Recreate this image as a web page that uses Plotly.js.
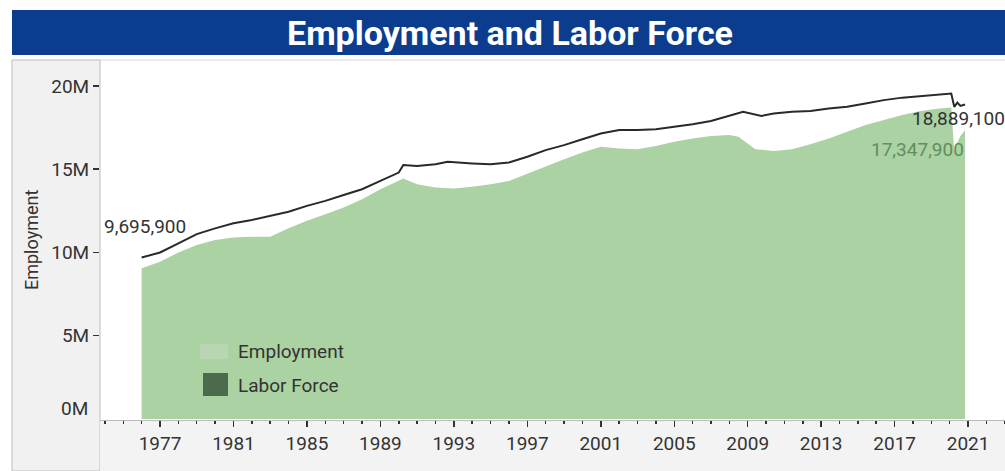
<!DOCTYPE html>
<html>
<head>
<meta charset="utf-8">
<script src="https://cdn.plot.ly/plotly-3.0.1.min.js"></script>
<style>
html,body{margin:0;padding:0;background:#fff;}
#chart{width:1005px;height:471px;}
</style>
</head>
<body>
<div id="chart"></div>
<script>
// Labor force (line)
const lfDates = ['1976-01-01','1977-01-01','1978-01-01','1979-01-01','1980-01-01','1981-01-01','1982-01-01','1983-01-01','1984-01-01','1985-01-01','1986-01-01','1987-01-01','1988-01-01','1989-01-01','1990-01-01','1990-04-01','1991-01-01','1992-01-01','1992-09-01','1994-01-01','1995-01-01','1996-01-01','1997-01-01','1998-01-01','1999-01-01','2000-01-01','2001-01-01','2002-01-01','2003-01-01','2004-01-01','2005-01-01','2006-01-01','2007-01-01','2008-01-01','2008-10-01','2009-10-01','2010-06-01','2011-06-01','2012-06-01','2013-06-01','2014-06-01','2015-06-01','2016-06-01','2017-06-01','2018-06-01','2019-06-01','2020-02-01','2020-04-01','2020-06-01','2020-08-01','2020-11-01'];
const laborForce = [9695900,10000000,10550000,11100000,11450000,11750000,11950000,12200000,12450000,12800000,13100000,13450000,13800000,14300000,14800000,15250000,15200000,15300000,15450000,15350000,15300000,15400000,15750000,16150000,16450000,16800000,17150000,17350000,17350000,17400000,17550000,17700000,17900000,18200000,18450000,18200000,18350000,18450000,18500000,18650000,18750000,18950000,19150000,19300000,19400000,19500000,19550000,18750000,19000000,18800000,18889100];

// Employment (area)
const empDates = ['1976-01-01','1977-01-01','1978-01-01','1979-01-01','1980-01-01','1981-01-01','1982-01-01','1983-01-01','1984-01-01','1985-01-01','1986-01-01','1987-01-01','1988-01-01','1989-01-01','1990-04-01','1991-01-01','1992-01-01','1993-01-01','1994-01-01','1995-01-01','1996-01-01','1997-01-01','1998-01-01','1999-01-01','2000-01-01','2001-01-01','2002-01-01','2003-01-01','2004-01-01','2005-01-01','2006-01-01','2007-01-01','2008-01-01','2008-07-01','2009-06-01','2010-06-01','2011-06-01','2012-06-01','2013-06-01','2014-06-01','2015-06-01','2016-06-01','2017-06-01','2018-06-01','2019-06-01','2020-02-01','2020-04-01','2020-06-01','2020-08-01','2020-11-01'];
const employment = [9050000,9450000,10000000,10450000,10750000,10900000,10950000,10950000,11450000,11900000,12300000,12700000,13200000,13800000,14450000,14100000,13900000,13850000,13950000,14100000,14300000,14750000,15200000,15600000,16000000,16350000,16250000,16200000,16400000,16650000,16850000,17000000,17050000,16950000,16200000,16100000,16200000,16500000,16850000,17250000,17650000,17950000,18250000,18500000,18650000,18700000,16050000,16600000,17000000,17347900];

const tickYears = ['1977','1981','1985','1989','1993','1997','2001','2005','2009','2013','2017','2021'];
const yTickVals = [5000000,10000000,15000000,20000000];
const yTickText = ['5M','10M','15M','20M'];
const legendLabels = ['Employment','Labor Force'];

const FONT = 'Roboto, "Open Sans", sans-serif';
const W = 905, H = 360, L = 100, T = 60;
const px = x => (x - L) / W;
const py = y => (T + H - y) / H;

const traces = [
  {
    x: empDates, y: employment, type: 'scatter', mode: 'lines',
    fill: 'tozeroy', fillcolor: '#aad2a2', line: {width: 0, color: '#aad2a2'},
    name: legendLabels[0], showlegend: false, hoverinfo: 'x+y'
  },
  {
    x: lfDates, y: laborForce, type: 'scatter', mode: 'lines',
    line: {width: 2, color: '#262b26'},
    name: legendLabels[1], showlegend: false, hoverinfo: 'x+y'
  }
];

const fmt = v => v.toLocaleString('en-US');

const layout = {
  width: 1005, height: 471,
  margin: {l: L, r: 0, t: T, b: 51, pad: 0},
  paper_bgcolor: '#ffffff', plot_bgcolor: 'rgba(0,0,0,0)',
  font: {family: FONT, color: '#333', size: 19},
  title: {text: '<b>Employment and Labor Force</b>', font: {family: FONT, size: 34, color: '#ffffff'},
          x: 510/1005, xanchor: 'center', xref: 'container', y: 1 - 33/471, yanchor: 'middle', yref: 'container'},
  xaxis: {
    type: 'date', range: ['1973-09-25', '2023-01-05'],
    tickvals: tickYears.map(y => y + '-01-01'), ticktext: tickYears,
    ticks: 'outside', ticklen: 6, tickwidth: 1.5, tickcolor: '#333',
    minor: {dtick: 'M12', tick0: '1977-01-01', ticks: 'outside', ticklen: 3, tickwidth: 1.5, tickcolor: '#333'},
    showline: true, linecolor: '#bbbbbb', linewidth: 1, showgrid: false, zeroline: false,
    tickfont: {family: FONT, size: 19, color: '#333'}, fixedrange: true
  },
  yaxis: {
    range: [-60000, 21560000],
    tickvals: yTickVals, ticktext: yTickText,
    ticks: 'outside', ticklen: 6, tickwidth: 1.5, tickcolor: '#333',
    showline: false, showgrid: false, zeroline: false,
    tickfont: {family: FONT, size: 19, color: '#333'}, fixedrange: true
  },
  shapes: [
    {type: 'rect', xref: 'paper', yref: 'paper', x0: px(12), x1: 1, y0: py(55), y1: py(10),
     fillcolor: '#0b3c8e', line: {width: 0}, layer: 'below'},
    {type: 'rect', xref: 'paper', yref: 'paper', x0: px(12), x1: 0, y0: py(471), y1: py(60),
     fillcolor: '#f1f1f1', line: {width: 1, color: '#bdbdbd'}, layer: 'below'},
    {type: 'rect', xref: 'paper', yref: 'paper', x0: 0, x1: 1, y0: py(471), y1: 0,
     fillcolor: '#f3f3f3', line: {width: 0}, layer: 'below'},
    {type: 'line', xref: 'paper', yref: 'paper', x0: 0, x1: 1, y0: 1, y1: 1,
     line: {width: 1, color: '#d8d8d8'}, layer: 'below'},
    {type: 'rect', xref: 'paper', yref: 'paper', x0: px(200), x1: px(228), y0: py(359), y1: py(344),
     fillcolor: '#b8d6b1', line: {width: 0}},
    {type: 'rect', xref: 'paper', yref: 'paper', x0: px(203), x1: px(228), y0: py(396), y1: py(373),
     fillcolor: '#4c6a4c', line: {width: 0}}
  ],
  annotations: [
    {text: 'Employment', xref: 'paper', yref: 'paper', x: px(31), y: py(240), textangle: -90,
     showarrow: false, font: {family: FONT, size: 18, color: '#333'}, xanchor: 'center', yanchor: 'middle'},
    {text: '0M', xref: 'paper', yref: 'paper', x: px(90), y: py(408), showarrow: false,
     font: {family: FONT, size: 19, color: '#333'}, xanchor: 'right', yanchor: 'middle'},
    {text: legendLabels[0], xref: 'paper', yref: 'paper', x: px(236), y: py(351), showarrow: false,
     font: {family: FONT, size: 19, color: '#333'}, xanchor: 'left', yanchor: 'middle'},
    {text: legendLabels[1], xref: 'paper', yref: 'paper', x: px(236), y: py(385), showarrow: false,
     font: {family: FONT, size: 19, color: '#333'}, xanchor: 'left', yanchor: 'middle'},
    {text: fmt(laborForce[0]), x: lfDates[0], y: laborForce[0], xref: 'x', yref: 'y',
     showarrow: false, xanchor: 'left', yanchor: 'middle', xshift: -40, yshift: 31,
     font: {family: FONT, size: 19, color: '#333'}},
    {text: fmt(laborForce[laborForce.length - 1]), x: lfDates[lfDates.length - 1], y: laborForce[laborForce.length - 1],
     xref: 'x', yref: 'y', showarrow: false, xanchor: 'right', yanchor: 'middle', xshift: 42, yshift: -14,
     font: {family: FONT, size: 19, color: '#333'}},
    {text: fmt(employment[employment.length - 1]), x: empDates[empDates.length - 1], y: employment[employment.length - 1],
     xref: 'x', yref: 'y', showarrow: false, xanchor: 'right', yanchor: 'middle', xshift: 1, yshift: -19,
     font: {family: FONT, size: 19, color: '#5f8f5f'}}
  ]
};

Plotly.newPlot('chart', traces, layout, {displayModeBar: false, staticPlot: true});
</script>
</body>
</html>
